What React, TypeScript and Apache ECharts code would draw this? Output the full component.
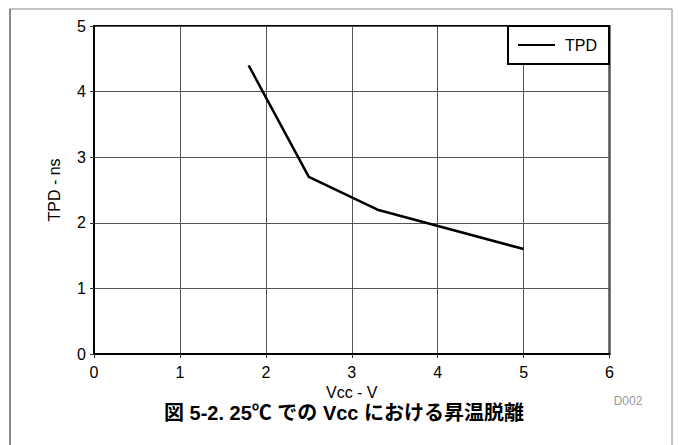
import React, { useEffect, useRef } from "react";
import * as echarts from "echarts";

const vcc = [1.8, 2.5, 3.3, 5];
const tpd = [4.4, 2.7, 2.2, 1.6];
const seriesName = "TPD";
const xName = "Vcc - V";
const yName = "TPD - ns";
const caption = "図 5-2. 25℃ での Vcc における昇温脱離";
const code = "D002";

export default function App() {
  const ref = useRef<HTMLDivElement>(null);
  useEffect(() => {
    if (!ref.current) return;
    const chart = echarts.init(ref.current, undefined, { renderer: "svg" });
    const font = '"Liberation Sans", Arial, "Noto Sans CJK JP", sans-serif';
    chart.setOption({
      animation: false,
      backgroundColor: "#fff",
      textStyle: { fontFamily: font },
      grid: {
        left: 94,
        top: 26,
        right: 68.5,
        bottom: 91,
        show: true,
        borderColor: "#000",
        borderWidth: 2,
        containLabel: false,
      },
      legend: {
        right: 69,
        top: 26,
        data: [seriesName],
        icon: "rect",
        itemWidth: 37,
        itemHeight: 2,
        padding: [11, 12, 11, 10],
        borderColor: "#000",
        borderWidth: 2,
        borderRadius: 0,
        backgroundColor: "#fff",
        textStyle: { fontFamily: font, fontSize: 16, color: "#000", padding: [0, 0, 0, 5] },
      },
      xAxis: {
        type: "value",
        min: 0,
        max: 6,
        interval: 1,
        name: xName,
        nameLocation: "middle",
        nameGap: 24,
        nameTextStyle: { fontFamily: font, fontSize: 16, color: "#000" },
        axisLine: { show: true, lineStyle: { color: "#000", width: 2 } },
        axisTick: { show: true, length: 4, lineStyle: { color: "#333" } },
        axisLabel: { fontFamily: font, fontSize: 16, color: "#000", margin: 10 },
        splitLine: { show: true, lineStyle: { color: "#555", width: 1 } },
      },
      yAxis: {
        type: "value",
        min: 0,
        max: 5,
        interval: 1,
        name: yName,
        nameLocation: "middle",
        nameGap: 32,
        nameTextStyle: { fontFamily: font, fontSize: 16, color: "#000" },
        axisLine: { show: true, lineStyle: { color: "#000", width: 2 } },
        axisTick: { show: true, length: 4, lineStyle: { color: "#333" } },
        axisLabel: { fontFamily: font, fontSize: 16, color: "#000", margin: 8 },
        splitLine: { show: true, lineStyle: { color: "#555", width: 1 } },
      },
      series: [
        {
          name: seriesName,
          type: "line",
          data: vcc.map((x, i) => [x, tpd[i]]),
          showSymbol: false,
          symbol: "none",
          lineStyle: { color: "#000", width: 2.5 },
          itemStyle: { color: "#000" },
        },
      ],
      graphic: [
        { type: "line", shape: { x1: 9, y1: 9, x2: 672, y2: 9 }, style: { stroke: "#888", lineWidth: 1 } },
        { type: "line", shape: { x1: 10, y1: 9, x2: 10, y2: 445 }, style: { stroke: "#888", lineWidth: 2 } },
        { type: "line", shape: { x1: 672, y1: 9, x2: 672, y2: 445 }, style: { stroke: "#888", lineWidth: 1 } },
        {
          type: "text",
          x: 628,
          y: 401,
          style: { text: code, fontFamily: font, fontSize: 12, fill: "#999", align: "center", verticalAlign: "middle" },
        },
        {
          type: "text",
          x: 344,
          y: 413,
          style: {
            text: caption,
            fontFamily: font,
            fontSize: 20,
            fontWeight: "bold",
            fill: "#000",
            align: "center",
            verticalAlign: "middle",
          },
        },
      ],
    });
    return () => chart.dispose();
  }, []);
  return <div ref={ref} style={{ position: "fixed", left: 0, top: 0, width: 678, height: 445 }} />;
}
